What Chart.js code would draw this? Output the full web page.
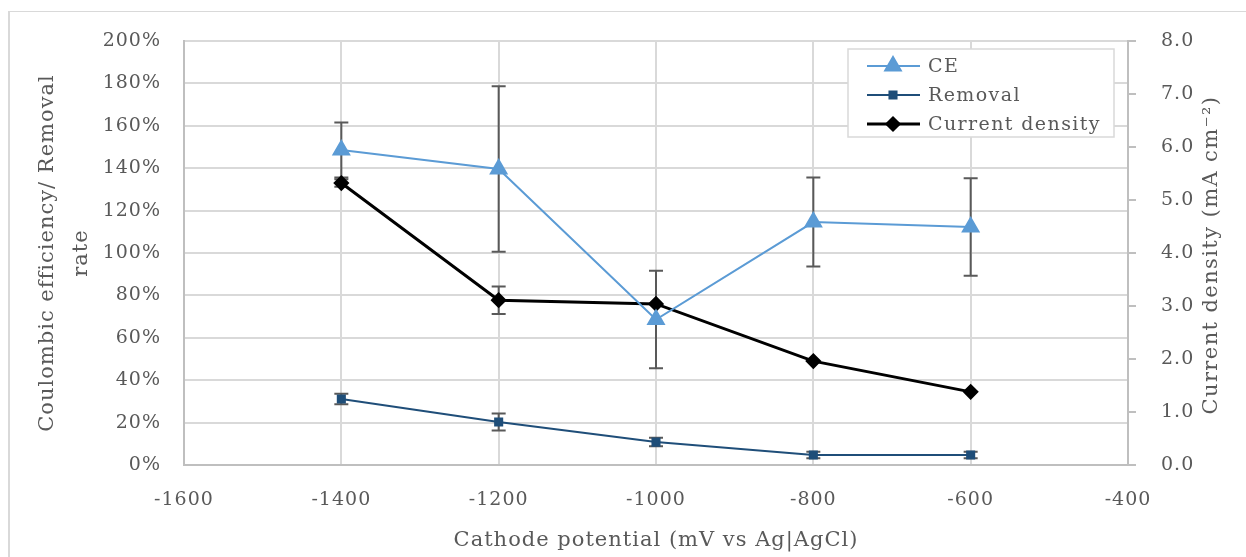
<!DOCTYPE html>
<html>
<head>
<meta charset="utf-8">
<title>Cathode potential</title>
<script src="https://cdn.jsdelivr.net/npm/chart.js@4"></script>
<style>
  html, body { margin: 0; padding: 0; background: #fff; }
  #frame {
    position: absolute; left: 8px; top: 11px; right: 0; bottom: 0;
    border-left: 2px solid #d9d9d9; border-top: 1px solid #d9d9d9;
  }
  #wrap { position: absolute; left: 0; top: 0; width: 1246px; height: 557px; }
</style>
</head>
<body>
<div id="frame"></div>
<div id="wrap"><canvas id="chart" width="1246" height="557"></canvas></div>
<script>
// Potenciais do cátodo (mV vs Ag|AgCl)
const potentials = [-1400, -1200, -1000, -800, -600];

// Eficiência coulômbica (%) e desvio
const ceValues = [148.6, 139.6, 68.6, 114.6, 112.3];
const ceErrors = [13, 39, 23, 21, 23];

// Taxa de remoção (%) e desvio
const removalValues = [31.1, 20.3, 10.8, 4.7, 4.7];
const removalErrors = [2.5, 4, 2, 1.5, 1.5];

// Densidade de corrente (mA cm-2) e desvio
const currentValues = [5.32, 3.11, 3.04, 1.96, 1.38];
const currentErrors = [0.07, 0.26, 0, 0, 0];

const FONT = "'DejaVu Serif', serif";
const TEXT = '#595959';
const GRID = '#d9d9d9';

function toPoints(values) {
    return potentials.map((x, i) => ({ x: x, y: values[i] }));
}

// Espaçamento entre letras para todo o texto do canvas
const spacing = {
    id: 'spacing',
    beforeDraw(chart) {
        chart.ctx.letterSpacing = '1px';
    }
};

// Barras de erro desenhadas atrás das linhas
const errorBars = {
    id: 'errorBars',
    beforeDatasetsDraw(chart) {
        const c = chart.ctx;
        c.save();
        c.strokeStyle = '#595959';
        c.lineWidth = 2;
        chart.data.datasets.forEach(ds => {
            if (!ds.errors) return;
            const xs = chart.scales.x;
            const ys = chart.scales[ds.yAxisID];
            ds.data.forEach((p, i) => {
                const e = ds.errors[i];
                if (!e) return;
                const px = xs.getPixelForValue(p.x);
                const top = ys.getPixelForValue(p.y + e);
                const bot = ys.getPixelForValue(p.y - e);
                c.beginPath();
                c.moveTo(px, top); c.lineTo(px, bot);
                c.moveTo(px - 7, top); c.lineTo(px + 7, top);
                c.moveTo(px - 7, bot); c.lineTo(px + 7, bot);
                c.stroke();
            });
        });
        c.restore();
    }
};

// Legenda dentro da área do gráfico + título do eixo direito
const boxLegend = {
    id: 'boxLegend',
    afterDraw(chart) {
        const c = chart.ctx;
        const x0 = 848, y0 = 49, w = 266, h = 88;
        c.save();
        c.letterSpacing = '1.4px';
        c.fillStyle = '#fff';
        c.fillRect(x0, y0, w, h);
        c.strokeStyle = GRID;
        c.lineWidth = 1.5;
        c.strokeRect(x0, y0, w, h);
        c.font = '19px ' + FONT;
        c.textBaseline = 'middle';
        chart.data.datasets.forEach((ds, i) => {
            const y = 66 + i * 29;
            c.strokeStyle = ds.borderColor;
            c.lineWidth = ds.borderWidth;
            c.beginPath();
            c.moveTo(867, y); c.lineTo(920, y);
            c.stroke();
            Chart.helpers.drawPoint(c, {
                pointStyle: ds.pointStyle,
                radius: ds.pointRadius,
                borderWidth: 1
            }, 893, y);
            c.fillStyle = ds.pointBackgroundColor;
            c.fill();
            c.fillStyle = TEXT;
            c.fillText(ds.label, 928, y + 1);
        });

        // título do eixo direito, lido de baixo para cima
        c.translate(1212, 255);
        c.rotate(-Math.PI / 2);
        c.textAlign = 'center';
        c.textBaseline = 'middle';
        c.fillStyle = TEXT;
        c.font = '21px ' + FONT;
        c.fillText('Current density (mA cm\u207B\u00B2)', 0, 0);
        c.restore();
    }
};

const ctx = document.getElementById('chart').getContext('2d');

new Chart(ctx, {
    type: 'line',
    data: {
        datasets: [
            {
                label: 'CE',
                data: toPoints(ceValues),
                errors: ceErrors,
                yAxisID: 'y',
                borderColor: '#5b9bd5',
                backgroundColor: '#5b9bd5',
                pointBackgroundColor: '#5b9bd5',
                pointBorderColor: '#5b9bd5',
                borderWidth: 2,
                pointStyle: 'triangle',
                pointRadius: 9,
                pointHoverRadius: 9
            },
            {
                label: 'Removal',
                data: toPoints(removalValues),
                errors: removalErrors,
                yAxisID: 'y',
                borderColor: '#1f4e79',
                backgroundColor: '#1f4e79',
                pointBackgroundColor: '#1f4e79',
                pointBorderColor: '#1f4e79',
                borderWidth: 2,
                pointStyle: 'rect',
                pointRadius: 5,
                pointHoverRadius: 5
            },
            {
                label: 'Current density',
                data: toPoints(currentValues),
                errors: currentErrors,
                yAxisID: 'y2',
                borderColor: '#000000',
                backgroundColor: '#000000',
                pointBackgroundColor: '#000000',
                pointBorderColor: '#000000',
                borderWidth: 3,
                pointStyle: 'rectRot',
                pointRadius: 6,
                pointHoverRadius: 6
            }
        ]
    },
    options: {
        responsive: false,
        animation: false,
        layout: { padding: { top: 41, left: 0, right: 0, bottom: 0 } },
        plugins: {
            legend: { display: false },
            tooltip: { enabled: false }
        },
        scales: {
            x: {
                type: 'linear',
                min: -1600,
                max: -400,
                afterFit(scale) { scale.height = 92; },
                ticks: {
                    stepSize: 200,
                    color: TEXT,
                    padding: 24,
                    font: { family: FONT, size: 19 },
                    maxRotation: 0,
                    callback: v => String(v)
                },
                grid: { color: GRID, lineWidth: 2, drawTicks: false },
                border: { color: '#bfbfbf', width: 2 },
                title: {
                    display: true,
                    text: 'Cathode potential (mV vs Ag|AgCl)',
                    color: TEXT,
                    font: { family: FONT, size: 21 },
                    padding: { top: 0 }
                }
            },
            y: {
                position: 'left',
                min: 0,
                max: 200,
                afterFit(scale) { scale.width = 184; },
                ticks: {
                    stepSize: 20,
                    color: TEXT,
                    padding: 23,
                    font: { family: FONT, size: 19 },
                    callback: v => v + '%'
                },
                grid: { color: GRID, lineWidth: 2, drawTicks: false },
                border: { color: '#bfbfbf', width: 2 },
                title: {
                    display: true,
                    text: ['Coulombic efficiency/ Removal', 'rate'],
                    color: TEXT,
                    font: { family: FONT, size: 21, lineHeight: 1.6 },
                    padding: { top: 31 }
                }
            },
            y2: {
                position: 'right',
                min: 0,
                max: 8,
                afterFit(scale) { scale.width = 118; },
                ticks: {
                    stepSize: 1,
                    color: TEXT,
                    padding: 25,
                    font: { family: FONT, size: 19 },
                    callback: v => v.toFixed(1)
                },
                grid: { drawOnChartArea: false, color: '#bfbfbf', lineWidth: 2, tickLength: 8 },
                border: { color: '#bfbfbf', width: 2 }
            }
        }
    },
    plugins: [spacing, errorBars, boxLegend]
});
</script>
</body>
</html>
